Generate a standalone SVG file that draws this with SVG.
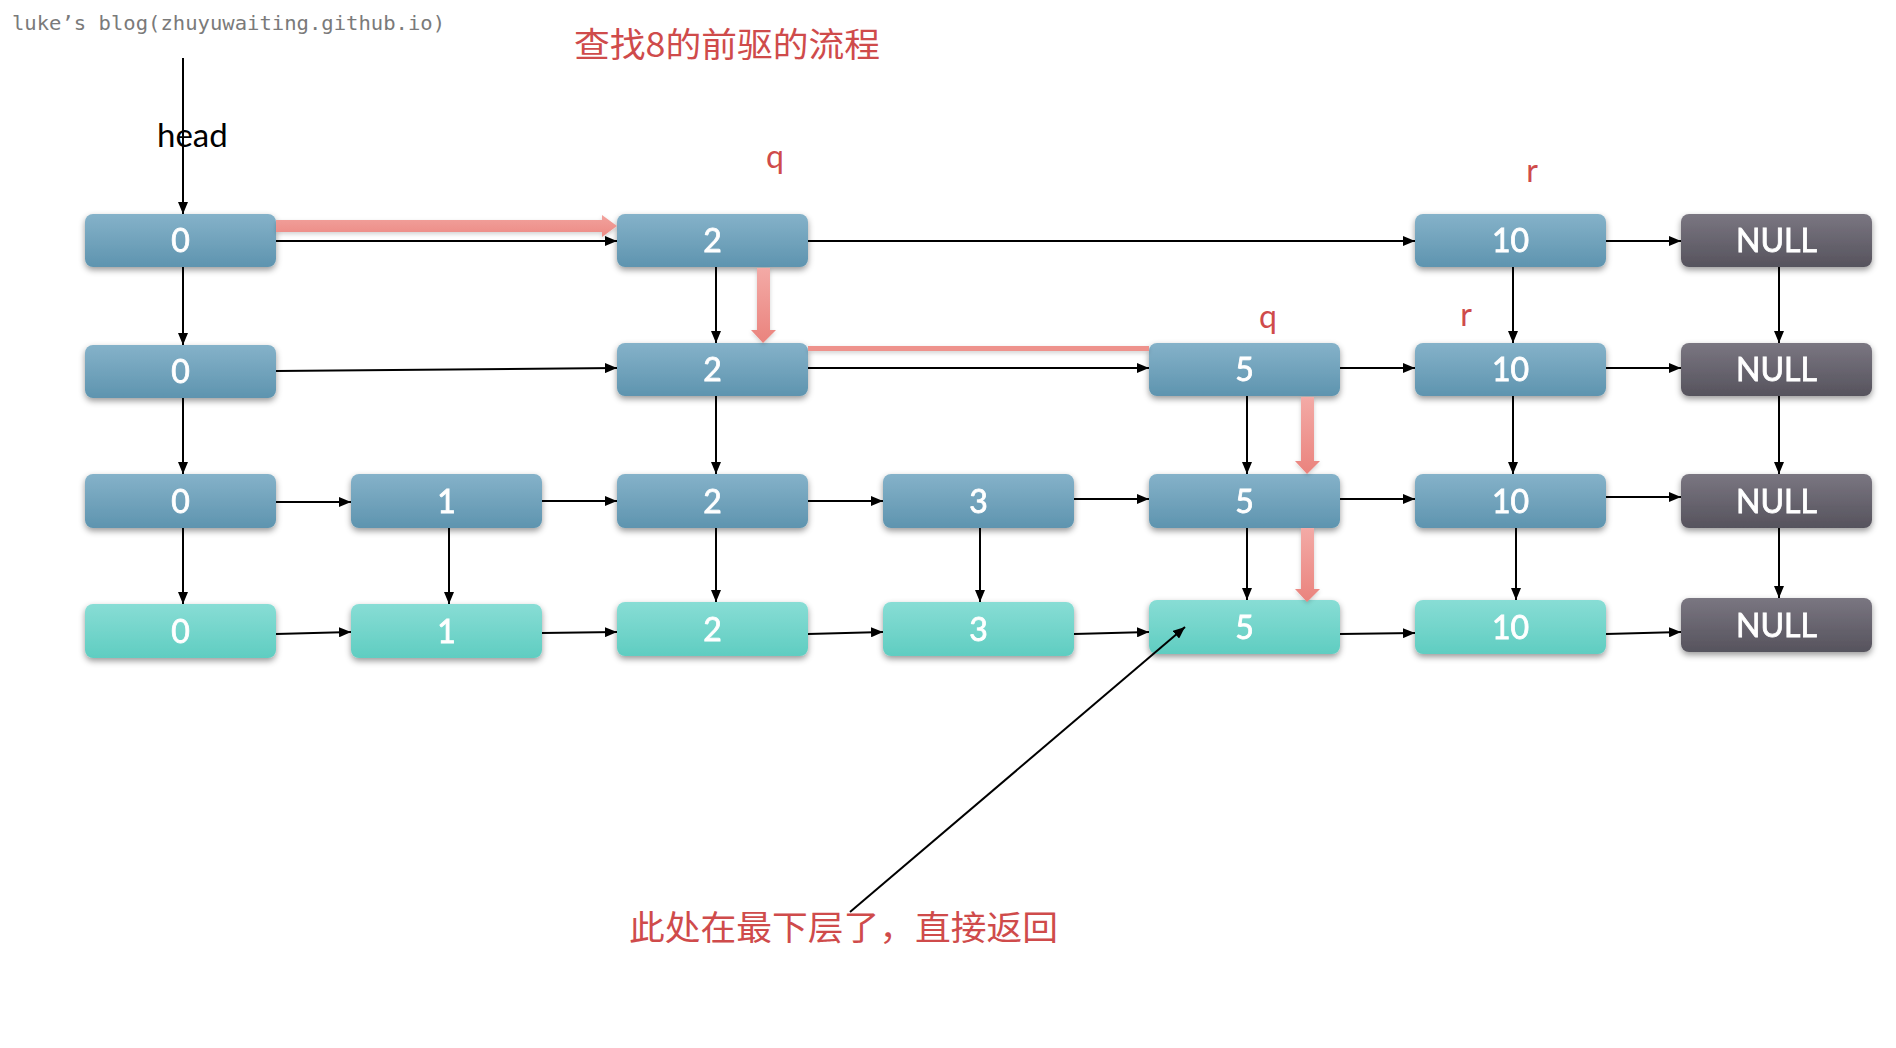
<svg xmlns="http://www.w3.org/2000/svg" width="1896" height="1048" viewBox="0 0 1896 1048">
  <defs>
    <linearGradient id="gBlue" x1="0" y1="0" x2="0" y2="1">
      <stop offset="0" stop-color="#85b2c9"/>
      <stop offset="1" stop-color="#5e94af"/>
    </linearGradient>
    <linearGradient id="gTeal" x1="0" y1="0" x2="0" y2="1">
      <stop offset="0" stop-color="#88ddd5"/>
      <stop offset="1" stop-color="#5fcdc1"/>
    </linearGradient>
    <linearGradient id="gNull" x1="0" y1="0" x2="0" y2="1">
      <stop offset="0" stop-color="#7a7681"/>
      <stop offset="1" stop-color="#56535d"/>
    </linearGradient>
    <linearGradient id="gPinkV" x1="0" y1="0" x2="0" y2="1">
      <stop offset="0" stop-color="#f3aaa6"/>
      <stop offset="1" stop-color="#ea837d"/>
    </linearGradient>
    <linearGradient id="gPinkH" x1="0" y1="0" x2="0" y2="1">
      <stop offset="0" stop-color="#f2a29d"/>
      <stop offset="1" stop-color="#ec8a84"/>
    </linearGradient>
    <filter id="shadow" x="-10%" y="-20%" width="120%" height="160%">
      <feDropShadow dx="0" dy="3" stdDeviation="3" flood-color="#000" flood-opacity="0.4"/>
    </filter>
    <filter id="pshadow" x="-30%" y="-30%" width="160%" height="160%">
      <feDropShadow dx="0" dy="2" stdDeviation="2" flood-color="#000" flood-opacity="0.18"/>
    </filter>
    <marker id="ah" viewBox="0 0 12 10" refX="12" refY="5" markerWidth="12" markerHeight="10" markerUnits="userSpaceOnUse" orient="auto">
      <path d="M0,0 L12,5 L0,10 Z" fill="#000"/>
    </marker>
  </defs>
  <style>
    .node { filter: url(#shadow); }
    .blue { fill: url(#gBlue); }
    .teal { fill: url(#gTeal); }
    .null { fill: url(#gNull); }
    .lbl { font-family: Lato, "Open Sans", "Liberation Sans", sans-serif; font-size: 32px; fill: #ffffff; stroke: #ffffff; stroke-width: 0.8; text-anchor: middle; }
    .link { stroke: #000; stroke-width: 2; fill: none; marker-end: url(#ah); }
    .ptr { font-family: Lato, "Open Sans", "Liberation Sans", sans-serif; font-size: 32px; fill: #cf4b4b; text-anchor: middle; }
    .note { font-family: "Noto Sans CJK SC", "Noto Sans", sans-serif; font-size: 34px; fill: #cf4b4b; }
  </style>

  <!-- watermark and titles -->
  <text x="12" y="30" font-family="'DejaVu Sans Mono', 'Liberation Mono', monospace" font-size="20" fill="#7a7a7a" textLength="433" lengthAdjust="spacingAndGlyphs">luke’s blog(zhuyuwaiting.github.io)</text>
  <text class="note" x="574" y="57" textLength="306" lengthAdjust="spacingAndGlyphs">查找8的前驱的流程</text>
  <text x="157" y="147" font-family="Lato, 'Open Sans', 'Liberation Sans', sans-serif" font-size="33" fill="#000">head</text>
  <text class="ptr" x="775" y="168">q</text>
  <text class="ptr" x="1532" y="182">r</text>
  <text class="ptr" x="1268" y="328">q</text>
  <text class="ptr" x="1466" y="326">r</text>
  <text class="note" x="629" y="940" textLength="429" lengthAdjust="spacingAndGlyphs">此处在最下层了，直接返回</text>

  <!-- level 1 -->
  <g id="n1-0" class="node"><rect class="blue" x="85" y="214" width="191" height="53" rx="8"/><text class="lbl" x="180.5" y="252">0</text></g>
  <g id="n1-2" class="node"><rect class="blue" x="617" y="214" width="191" height="53" rx="8"/><text class="lbl" x="712.5" y="252">2</text></g>
  <g id="n1-10" class="node"><rect class="blue" x="1415" y="214" width="191" height="53" rx="8"/><text class="lbl" x="1510.5" y="252">10</text></g>
  <g id="n1-null" class="node"><rect class="null" x="1681" y="214" width="191" height="53" rx="8"/><text class="lbl" x="1776.5" y="252">NULL</text></g>

  <!-- level 2 -->
  <g id="n2-0" class="node"><rect class="blue" x="85" y="345" width="191" height="53" rx="8"/><text class="lbl" x="180.5" y="383">0</text></g>
  <g id="n2-2" class="node"><rect class="blue" x="617" y="343" width="191" height="53" rx="8"/><text class="lbl" x="712.5" y="381">2</text></g>
  <g id="n2-5" class="node"><rect class="blue" x="1149" y="343" width="191" height="53" rx="8"/><text class="lbl" x="1244.5" y="381">5</text></g>
  <g id="n2-10" class="node"><rect class="blue" x="1415" y="343" width="191" height="53" rx="8"/><text class="lbl" x="1510.5" y="381">10</text></g>
  <g id="n2-null" class="node"><rect class="null" x="1681" y="343" width="191" height="53" rx="8"/><text class="lbl" x="1776.5" y="381">NULL</text></g>

  <!-- level 3 -->
  <g id="n3-0" class="node"><rect class="blue" x="85" y="474" width="191" height="54" rx="8"/><text class="lbl" x="180.5" y="513">0</text></g>
  <g id="n3-1" class="node"><rect class="blue" x="351" y="474" width="191" height="54" rx="8"/><text class="lbl" x="446.5" y="513">1</text></g>
  <g id="n3-2" class="node"><rect class="blue" x="617" y="474" width="191" height="54" rx="8"/><text class="lbl" x="712.5" y="513">2</text></g>
  <g id="n3-3" class="node"><rect class="blue" x="883" y="474" width="191" height="54" rx="8"/><text class="lbl" x="978.5" y="513">3</text></g>
  <g id="n3-5" class="node"><rect class="blue" x="1149" y="474" width="191" height="54" rx="8"/><text class="lbl" x="1244.5" y="513">5</text></g>
  <g id="n3-10" class="node"><rect class="blue" x="1415" y="474" width="191" height="54" rx="8"/><text class="lbl" x="1510.5" y="513">10</text></g>
  <g id="n3-null" class="node"><rect class="null" x="1681" y="474" width="191" height="54" rx="8"/><text class="lbl" x="1776.5" y="513">NULL</text></g>

  <!-- level 4 (bottom list) -->
  <g id="n4-0" class="node"><rect class="teal" x="85" y="604" width="191" height="54" rx="8"/><text class="lbl" x="180.5" y="643">0</text></g>
  <g id="n4-1" class="node"><rect class="teal" x="351" y="604" width="191" height="54" rx="8"/><text class="lbl" x="446.5" y="643">1</text></g>
  <g id="n4-2" class="node"><rect class="teal" x="617" y="602" width="191" height="54" rx="8"/><text class="lbl" x="712.5" y="641">2</text></g>
  <g id="n4-3" class="node"><rect class="teal" x="883" y="602" width="191" height="54" rx="8"/><text class="lbl" x="978.5" y="641">3</text></g>
  <g id="n4-5" class="node"><rect class="teal" x="1149" y="600" width="191" height="54" rx="8"/><text class="lbl" x="1244.5" y="639">5</text></g>
  <g id="n4-10" class="node"><rect class="teal" x="1415" y="600" width="191" height="54" rx="8"/><text class="lbl" x="1510.5" y="639">10</text></g>
  <g id="n4-null" class="node"><rect class="null" x="1681" y="598" width="191" height="54" rx="8"/><text class="lbl" x="1776.5" y="637">NULL</text></g>

  <g id="connectors">
    <!-- head pointer and downward links -->
    <path class="link" d="M183,58 V214"/>
    <path class="link" d="M183,267 V345"/>
    <path class="link" d="M183,398 V474"/>
    <path class="link" d="M183,528 V604"/>
    <path class="link" d="M449,528 V604"/>
    <path class="link" d="M716,267 V343"/>
    <path class="link" d="M716,396 V474"/>
    <path class="link" d="M716,528 V602"/>
    <path class="link" d="M980,528 V602"/>
    <path class="link" d="M1247,396 V474"/>
    <path class="link" d="M1247,528 V600"/>
    <path class="link" d="M1513,267 V343"/>
    <path class="link" d="M1513,396 V474"/>
    <path class="link" d="M1516,528 V600"/>
    <path class="link" d="M1779,267 V343"/>
    <path class="link" d="M1779,396 V474"/>
    <path class="link" d="M1779,528 V598"/>

    <!-- level 1 forward links -->
    <path class="link" d="M276,241 H617"/>
    <path class="link" d="M808,241 H1415"/>
    <path class="link" d="M1606,241 H1681"/>

    <!-- level 2 forward links -->
    <path class="link" d="M276,371 L617,368"/>
    <path class="link" d="M808,368 H1149"/>
    <path class="link" d="M1340,368 H1415"/>
    <path class="link" d="M1606,368 H1681"/>

    <!-- level 3 forward links -->
    <path class="link" d="M276,502 H351"/>
    <path class="link" d="M542,501 H617"/>
    <path class="link" d="M808,501 H883"/>
    <path class="link" d="M1074,499 H1149"/>
    <path class="link" d="M1340,499 H1415"/>
    <path class="link" d="M1606,497 H1681"/>

    <!-- level 4 forward links -->
    <path class="link" d="M276,634 L351,632"/>
    <path class="link" d="M542,633 L617,632"/>
    <path class="link" d="M808,634 L883,632"/>
    <path class="link" d="M1074,634 L1149,632"/>
    <path class="link" d="M1340,634 L1415,633"/>
    <path class="link" d="M1606,634 L1681,632"/>

    <!-- callout pointer -->
    <path class="link" d="M850,912 L1185,627"/>

    <!-- search path highlight -->
    <g filter="url(#pshadow)">
      <polygon fill="url(#gPinkH)" points="276,220 602,220 602,215 617,226 602,237 602,232 276,232"/>
      <polygon fill="url(#gPinkV)" points="757,268 770,268 770,330 776,330 763,343 751,330 757,330"/>
      <rect x="808" y="346" width="341" height="5" fill="#ee928c"/>
      <polygon fill="url(#gPinkV)" points="1301,397 1314,397 1314,461 1320,461 1307,474 1295,461 1301,461"/>
      <polygon fill="url(#gPinkV)" points="1301,528 1314,528 1314,589 1320,589 1307,602 1295,589 1301,589"/>
    </g>
  </g>
</svg>
